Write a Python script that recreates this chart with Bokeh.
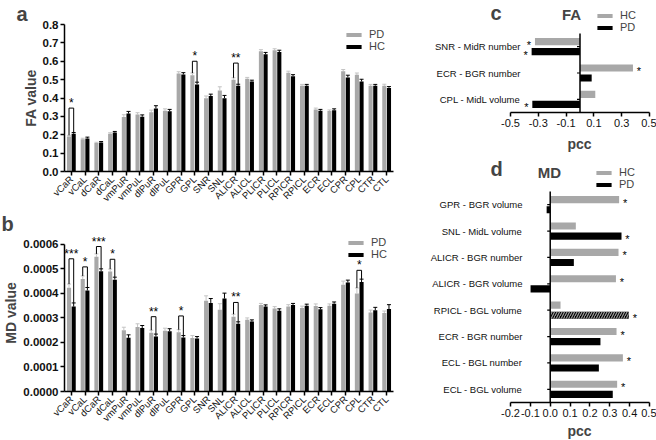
import math
from bokeh.plotting import figure
from bokeh.models import (ColumnDataSource, FactorRange, Range1d, Whisker, TeeHead, Legend,
                          LegendItem, Label, LabelSet, FixedTicker, NumeralTickFormatter, Title)
from bokeh.transform import dodge
from bokeh.layouts import row, column
from bokeh.embed import file_html
from bokeh.resources import INLINE
from bokeh.core.properties import value

# ---------------- data ----------------
regions = ["vCaR", "vCaL", "dCaR", "dCaL", "vmPuR", "vmPuL", "dlPuR", "dlPuL", "GPR", "GPL",
           "SNR", "SNL", "ALICR", "ALICL", "PLICR", "PLICL", "RPICR", "RPICL", "ECR", "ECL",
           "CPR", "CPL", "CTR", "CTL"]

fa_pd = [0.19, 0.175, 0.155, 0.205, 0.297, 0.31, 0.322, 0.331, 0.533, 0.524, 0.399, 0.441,
         0.50, 0.505, 0.655, 0.66, 0.538, 0.467, 0.338, 0.329, 0.545, 0.526, 0.467, 0.467]
fa_hc = [0.205, 0.18, 0.158, 0.212, 0.315, 0.298, 0.343, 0.328, 0.528, 0.474, 0.411, 0.399,
         0.467, 0.49, 0.638, 0.65, 0.519, 0.467, 0.331, 0.333, 0.512, 0.49, 0.467, 0.455]
fa_pd_err = [0.007, 0.006, 0.004, 0.006, 0.012, 0.01, 0.012, 0.01, 0.01, 0.012, 0.012, 0.02,
             0.01, 0.007, 0.008, 0.008, 0.008, 0.007, 0.007, 0.006, 0.01, 0.01, 0.007, 0.008]
fa_hc_err = [0.007, 0.007, 0.005, 0.006, 0.012, 0.01, 0.015, 0.01, 0.01, 0.012, 0.01, 0.015,
             0.008, 0.007, 0.01, 0.01, 0.008, 0.007, 0.007, 0.008, 0.012, 0.012, 0.007, 0.007]

md_pd = [4.23e-4, 4.59e-4, 5.49e-4, 4.89e-4, 2.50e-4, 2.63e-4, 2.40e-4, 2.48e-4, 2.42e-4, 2.18e-4,
         3.70e-4, 3.33e-4, 3.05e-4, 2.92e-4, 3.53e-4, 3.38e-4, 3.47e-4, 3.40e-4, 3.49e-4, 3.50e-4,
         4.35e-4, 4.00e-4, 3.22e-4, 3.20e-4]
md_hc = [3.46e-4, 4.12e-4, 4.90e-4, 4.56e-4, 2.19e-4, 2.59e-4, 2.24e-4, 2.46e-4, 2.20e-4, 2.16e-4,
         3.61e-4, 3.79e-4, 2.76e-4, 2.85e-4, 3.46e-4, 3.29e-4, 3.53e-4, 3.50e-4, 3.35e-4, 3.58e-4,
         4.44e-4, 4.46e-4, 3.31e-4, 3.36e-4]
md_pd_err = [0.15e-4, 0.12e-4, 0.12e-4, 0.10e-4, 0.12e-4, 0.13e-4, 0.10e-4, 0.10e-4, 0.10e-4, 0.10e-4,
             0.20e-4, 0.25e-4, 0.10e-4, 0.08e-4, 0.06e-4, 0.08e-4, 0.07e-4, 0.08e-4, 0.08e-4, 0.07e-4,
             0.15e-4, 0.22e-4, 0.10e-4, 0.08e-4]
md_hc_err = [0.15e-4, 0.12e-4, 0.10e-4, 0.10e-4, 0.12e-4, 0.10e-4, 0.10e-4, 0.10e-4, 0.08e-4, 0.08e-4,
             0.18e-4, 0.22e-4, 0.08e-4, 0.07e-4, 0.07e-4, 0.08e-4, 0.06e-4, 0.06e-4, 0.07e-4, 0.07e-4,
             0.10e-4, 0.12e-4, 0.12e-4, 0.18e-4]

fa_ticks = [0.0, 0.1, 0.2, 0.3, 0.4, 0.5, 0.6, 0.7, 0.8]
md_ticks = [0.0, 0.0001, 0.0002, 0.0003, 0.0004, 0.0005, 0.0006]

fa_sig_regions = ["vCaR", "GPL", "ALICR"]
fa_sig_text = ["*", "*", "**"]
fa_sig_top = [0.345, 0.600, 0.590]

md_sig_regions = ["vCaR", "vCaL", "dCaR", "dCaL", "dlPuR", "GPR", "ALICR", "CPL"]
md_sig_text = ["***", "*", "***", "*", "**", "*", "**", "*"]
md_sig_top = [5.41e-4, 5.08e-4, 5.91e-4, 5.39e-4, 3.05e-4, 3.08e-4, 3.63e-4, 4.94e-4]

fa_corr_labels = ["SNR - MidR number", "ECR - BGR number", "CPL - MidL volume"]
fa_corr_hc = [-0.324, 0.381, 0.110]
fa_corr_pd = [-0.348, 0.084, -0.343]
fa_corr_hc_sig = ["*", "*", ""]
fa_corr_pd_sig = ["*", "", "*"]
fa_corr_ticks = [-0.5, -0.3, -0.1, 0.1, 0.3, 0.5]

md_corr_labels = ["GPR - BGR volume", "SNL - MidL volume", "ALICR - BGR number",
                  "ALICR - BGR volume", "RPICL - BGL volume", "ECR - BGR number",
                  "ECL - BGL number", "ECL - BGL volume"]
md_corr_hc = [0.347, 0.129, 0.344, 0.331, 0.052, 0.334, 0.366, 0.337]
md_corr_pd = [-0.018, 0.359, 0.119, -0.099, 0.396, 0.253, 0.245, 0.315]
md_corr_hc_sig = ["*", "", "*", "*", "", "*", "*", "*"]
md_corr_pd_sig = ["", "*", "", "", "*", "", "", ""]
md_corr_pd_hatch = [" ", " ", " ", " ", "/", " ", " ", " "]
md_corr_ticks = [-0.2, -0.1, 0.0, 0.1, 0.2, 0.3, 0.4, 0.5]

# ---------------- style ----------------
FONT = "Liberation Sans"
FONT_V = value(FONT)
GRAY = "#a8a8a8"
EGRAY = "#c4c4c4"
BW = 0.3      # bar width (band units)
OFF = 0.17    # dodge offset
LEFT_W = 420
RIGHT_W = 236
RIGHT_BORDER = 7
AXIS_LEFT_PX = 90


def base_fig(**kw):
    p = figure(output_backend="svg", toolbar_location=None, **kw)
    p.outline_line_color = None
    p.grid.grid_line_color = None
    for ax in p.axis:
        ax.axis_line_width = 1.5
        ax.major_tick_line_width = 1.5
        ax.major_tick_out = 4
        ax.major_tick_in = 0
        ax.minor_tick_line_color = None
        ax.major_label_text_font = FONT
        ax.axis_label_text_font = FONT
        ax.major_label_text_color = "#111111"
    return p


def make_legend(items, **kw):
    return Legend(items=items, glyph_width=19, glyph_height=5, label_height=11,
                  label_text_font=FONT, label_text_font_size="11px", label_standoff=6,
                  spacing=0, padding=0, border_line_color=None, background_fill_alpha=0, **kw)


def bar_panel(vals_pd, vals_hc, err_pd, err_hc, ticks, fmt, ymax, axis_max, ylabel,
              sig_regions, sig_text, sig_top, height, borders, letter, letter_off, leg_margin):
    p = base_fig(width=LEFT_W, height=height, x_range=FactorRange(factors=regions),
                 y_range=Range1d(0, ymax), min_border_left=borders[0],
                 min_border_right=borders[1], min_border_top=borders[2],
                 min_border_bottom=borders[3])
    p.title.text = letter
    p.title.align = "left"
    p.title.offset = letter_off
    p.title.standoff = 0
    p.title.text_font = FONT
    p.title.text_font_size = "20px"
    p.title.text_font_style = "bold"
    src = ColumnDataSource(dict(region=regions, pd=vals_pd, hc=vals_hc,
                                pd_up=[v + e for v, e in zip(vals_pd, err_pd)],
                                hc_up=[v + e for v, e in zip(vals_hc, err_hc)]))
    r_pd = p.vbar(x=dodge("region", -OFF, range=p.x_range), top="pd", width=BW, source=src,
                  fill_color=GRAY, line_color=None)
    r_hc = p.vbar(x=dodge("region", OFF, range=p.x_range), top="hc", width=BW, source=src,
                  fill_color="black", line_color=None)
    p.add_layout(Whisker(source=src, base=dodge("region", -OFF, range=p.x_range), lower="pd",
                         upper="pd_up", line_color=EGRAY, line_width=1,
                         upper_head=TeeHead(size=4, line_color=EGRAY, line_width=1), lower_head=None))
    p.add_layout(Whisker(source=src, base=dodge("region", OFF, range=p.x_range), lower="hc",
                         upper="hc_up", line_color="black", line_width=1,
                         upper_head=TeeHead(size=4, line_color="black", line_width=1), lower_head=None))
    idx = [regions.index(r) for r in sig_regions]
    ssrc = ColumnDataSource(dict(region=sig_regions, text=sig_text, top=sig_top,
                                 left_low=[vals_pd[i] + err_pd[i] for i in idx],
                                 right_low=[vals_hc[i] + err_hc[i] for i in idx]))
    for x0, x1, y0, y1 in ((-OFF, -OFF, "left_low", "top"), (OFF, OFF, "right_low", "top"),
                           (-OFF, OFF, "top", "top")):
        p.segment(x0=dodge("region", x0, range=p.x_range), y0=y0,
                  x1=dodge("region", x1, range=p.x_range), y1=y1, source=ssrc,
                  line_color="black", line_width=1)
    p.add_layout(LabelSet(x="region", y="top", text="text", source=ssrc, text_align="center",
                          text_baseline="bottom", y_offset=-2, text_font=FONT_V,
                          text_font_size="12px", text_color="black"))
    yax = p.yaxis[0]
    yax.bounds = (0, axis_max)
    yax.ticker = FixedTicker(ticks=ticks)
    yax.formatter = NumeralTickFormatter(format=fmt)
    yax.major_label_text_font_style = "bold"
    yax.major_label_text_font_size = "11.5px"
    yax.major_label_standoff = 2
    yax.axis_label = ylabel
    yax.axis_label_text_font_style = "bold"
    yax.axis_label_text_font_size = "14px"
    yax.axis_label_standoff = 1
    xax = p.xaxis[0]
    xax.major_label_orientation = math.pi / 4
    xax.major_label_text_font_size = "9.5px"
    xax.major_label_standoff = 2
    p.add_layout(make_legend([LegendItem(label="PD", renderers=[r_pd]),
                              LegendItem(label="HC", renderers=[r_hc])],
                             location="top_right", margin=leg_margin))
    return p


def corr_panel(labels, hc, pd, hc_sig, pd_sig, hatch, ticks, xlo, xhi, title, letter,
               height, bottom_border, header_px, title_px, label_gap, pcc_standoff, leg_margin):
    n = len(labels)
    frame_w = RIGHT_W - RIGHT_BORDER
    ppu = (frame_w - AXIS_LEFT_PX) / (xhi - xlo)
    xmin = xlo - AXIS_LEFT_PX / ppu
    frame_h = height - bottom_border
    band_px = (frame_h - header_px) / n
    ytop = n + 0.5 + header_px / band_px
    pos = [n - i for i in range(n)]

    def px_x(px):
        return xmin + px / ppu

    def px_y(py):
        return ytop - py / band_px

    p = base_fig(width=RIGHT_W, height=height, x_range=Range1d(xmin, xhi),
                 y_range=Range1d(0.5, ytop), y_axis_location=None, min_border_left=0,
                 min_border_right=RIGHT_BORDER, min_border_top=0, min_border_bottom=bottom_border)
    src = ColumnDataSource(dict(label=labels, pos=pos, hc=hc, pd=pd, hc_sig=hc_sig,
                                pd_sig=pd_sig, hatch=hatch,
                                hc_y=[v + 0.19 for v in pos], pd_y=[v - 0.19 for v in pos],
                                hc_off=[6 if v >= 0 else -6 for v in hc],
                                pd_off=[6 if v >= 0 else -6 for v in pd],
                                lab_x=[xlo] * n, zero=[0] * n, tick=[-3 / ppu] * n))
    r_hc = p.hbar(y="hc_y", left=0, right="hc", height=0.27, source=src, fill_color=GRAY,
                  line_color=None)
    r_pd = p.hbar(y="pd_y", left=0, right="pd", height=0.27, source=src, fill_color="black",
                  line_color=None, hatch_pattern="hatch", hatch_color="#9a9a9a", hatch_scale=5,
                  hatch_weight=1.2)
    p.text(x="hc", y="hc_y", text="hc_sig", x_offset="hc_off", y_offset=3, source=src,
           text_align="center", text_baseline="middle", text_font=FONT_V,
           text_font_size="11px", text_color="black")
    p.text(x="pd", y="pd_y", text="pd_sig", x_offset="pd_off", y_offset=3, source=src,
           text_align="center", text_baseline="middle", text_font=FONT_V,
           text_font_size="11px", text_color="black")
    # category labels, right-aligned just left of the bars
    p.text(x="lab_x", y="pos", text="label", x_offset=label_gap, source=src, text_align="right",
           text_baseline="middle", text_font=FONT_V, text_font_size="9.5px", text_color="#111111")
    # zero axis line with ticks at category centres
    p.segment(x0=0, x1=0, y0=min(pos) - 0.5, y1=max(pos) + 0.5, line_color="black",
              line_width=1.5)
    p.segment(x0="tick", x1="zero", y0="pos", y1="pos", source=src, line_color="black",
              line_width=1.2)
    xax = p.xaxis[0]
    xax.bounds = (xlo, xhi)
    xax.ticker = FixedTicker(ticks=ticks)
    xax.formatter = NumeralTickFormatter(format="0.0")
    xax.major_label_text_font_size = "11px"
    xax.major_label_standoff = 2
    # axis title "pcc", centred under the axis span
    p.add_layout(Title(text="pcc", align="left", offset=147, standoff=pcc_standoff,
                       text_font=FONT, text_font_size="14px", text_font_style="bold"), "below")
    p.add_layout(make_legend([LegendItem(label="HC", renderers=[r_hc]),
                              LegendItem(label="PD", renderers=[r_pd])],
                             location="top_right", margin=leg_margin))
    p.add_layout(Label(x=px_x(title_px[0]), y=px_y(title_px[1]), text=title, text_font=FONT,
                       text_font_size="15px", text_font_style="bold", text_align="center",
                       text_baseline="middle"))
    p.add_layout(Label(x=px_x(70), y=px_y(1), text=letter, text_font=FONT,
                       text_font_size="20px", text_font_style="bold", text_align="left",
                       text_baseline="top"))
    return p


a = bar_panel(fa_pd, fa_hc, fa_pd_err, fa_hc_err, fa_ticks, "0.0", 0.8, 0.8, "FA value",
              fa_sig_regions, fa_sig_text, fa_sig_top, 210, (40, 27, 19, 38), "a", -48, 4)
b = bar_panel(md_pd, md_hc, md_pd_err, md_hc_err, md_ticks, "0.0000", 0.00064, 0.0006,
              "MD value", md_sig_regions, md_sig_text, md_sig_top, 230, (55, 15, 20, 49), "b",
              -63, 2)
c = corr_panel(fa_corr_labels, fa_corr_hc, fa_corr_pd, fa_corr_hc_sig, fa_corr_pd_sig,
               [" "] * len(fa_corr_labels), fa_corr_ticks, -0.5, 0.5, "FA", "c",
               156, 44, 33, (151, 14), 10, 8, 9)
d = corr_panel(md_corr_labels, md_corr_hc, md_corr_pd, md_corr_hc_sig, md_corr_pd_sig,
               md_corr_pd_hatch, md_corr_ticks, -0.2, 0.5, "MD", "d",
               284, 38, 35, (129, 16), 12, 2, 10)

layout = row(column(a, b), column(c, d))
open("out.html", "w").write(file_html(layout, INLINE))
